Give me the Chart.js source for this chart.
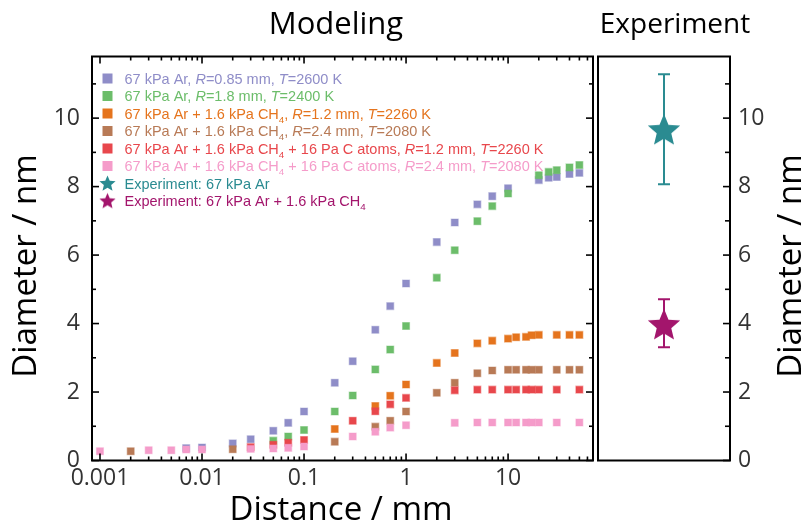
<!DOCTYPE html>
<html><head><meta charset="utf-8">
<script src="https://cdn.jsdelivr.net/npm/chart.js@4.4.1/dist/chart.umd.min.js"></script>
<style>
html,body{margin:0;padding:0;background:#fff;}
#wrap{position:relative;width:806px;height:529px;overflow:hidden;background:#fff;}
canvas{position:absolute;top:0;}
#c1{left:0;} #c2{left:580px;}
</style></head><body>
<div id="wrap"><canvas id="c1" width="600" height="529"></canvas><canvas id="c2" width="226" height="529"></canvas></div>
<script>
// ---------------- data ----------------
const N = null;
const distances = [0.001,0.002,0.003,0.005,0.007,0.01,0.02,0.03,0.05,0.07,0.1,0.2,0.3,0.5,0.7,1,2,3,5,7,10,12,15,17,20,25,30,40,50];
const arR085  = [N,N,N,N,0.36,0.38,0.50,0.62,0.87,1.10,1.43,2.27,2.90,3.82,4.51,5.17,6.38,6.95,7.48,7.72,7.95,N,N,N,8.19,8.26,8.28,8.37,8.40];
const arR18   = [N,N,N,N,N,N,N,N,0.58,0.70,0.89,1.43,1.90,2.66,3.24,3.93,5.34,6.14,6.99,7.43,7.80,N,N,N,8.33,8.43,8.48,8.56,8.63];
const ch4R12  = [N,N,N,N,N,N,N,N,N,N,N,0.92,N,1.59,1.89,2.22,2.85,3.14,3.42,3.50,3.56,3.60,3.61,3.66,3.67,N,3.67,3.67,3.67];
const ch4R24  = [N,0.27,N,N,N,N,0.33,N,N,N,N,0.55,N,0.99,1.16,1.43,1.98,2.27,2.55,2.63,2.65,2.65,2.65,2.65,2.65,N,2.65,2.65,2.65];
const cR12    = [N,N,N,N,N,N,N,0.39,0.46,0.52,0.60,N,1.16,1.44,1.64,1.83,N,2.05,2.07,2.07,2.07,2.07,2.07,2.07,2.07,N,2.07,N,2.07];
const cR24    = [0.27,N,0.30,0.30,0.32,0.32,N,0.34,0.35,0.37,0.41,N,0.70,0.84,0.96,1.03,N,1.10,1.11,1.11,1.11,1.11,1.11,1.11,1.11,N,1.11,N,1.11];
const modelSeries = [arR085, arR18, ch4R12, ch4R24, cR12, cR24];

const seriesLabels = [
  '67 kPa Ar, <i>R</i>=0.85 mm, <i>T</i>=2600 K',
  '67 kPa Ar, <i>R</i>=1.8 mm, <i>T</i>=2400 K',
  '67 kPa Ar + 1.6 kPa CH<sub>4</sub>, <i>R</i>=1.2 mm, <i>T</i>=2260 K',
  '67 kPa Ar + 1.6 kPa CH<sub>4</sub>, <i>R</i>=2.4 mm, <i>T</i>=2080 K',
  '67 kPa Ar + 1.6 kPa CH<sub>4</sub> + 16 Pa C atoms, <i>R</i>=1.2 mm, <i>T</i>=2260 K',
  '67 kPa Ar + 1.6 kPa CH<sub>4</sub> + 16 Pa C atoms, <i>R</i>=2.4 mm, <i>T</i>=2080 K'
];
const expLabels = ['Experiment: 67 kPa Ar', 'Experiment: 67 kPa Ar + 1.6 kPa CH<sub>4</sub>'];
const expCategory = ['Experiment'];
const expValues = [9.65, 3.96];
const expLow    = [8.07, 3.31];
const expHigh   = [11.28, 4.71];

const xTickLabels = ['0.001','0.01','0.1','1','10'];
const yTickLabels = ['0','2','4','6','8','10'];
const yMax = 11.8;

// ---------------- styles ----------------
const modelColors = ['#8f8dc8','#6cbd6a','#e5741d','#b87a56','#e8474c','#f59cca'];
const expColors = ['#2a8b91','#a3156c'];
const AX_FONT = '"Open Sans", "DejaVu Sans", sans-serif';
const LG_FONT = '"Liberation Sans", Arial, sans-serif';

function rgba(hex, a){const n=parseInt(hex.slice(1),16);return `rgba(${n>>16&255},${n>>8&255},${n&255},${a})`;}

function starCanvas(color, r){
  const s = Math.ceil(r*2+2), c = document.createElement('canvas');
  c.width = s; c.height = s;
  const g = c.getContext('2d'), cx = s/2, cy = s/2 + r*0.05, ri = r*0.45;
  g.beginPath();
  for(let k=0;k<10;k++){
    const rr = k%2===0 ? r : ri, a = -Math.PI/2 + k*Math.PI/5;
    g.lineTo(cx + rr*Math.cos(a), cy + rr*Math.sin(a));
  }
  g.closePath(); g.fillStyle = color; g.fill();
  return c;
}

function drawRich(ctx, str, x, y, color, size){
  const parts = str.split(/(<i>[^<]*<\/i>|<sub>[^<]*<\/sub>)/).filter(s=>s);
  ctx.fillStyle = color; ctx.textBaseline = 'alphabetic'; ctx.textAlign = 'left';
  for(const p of parts){
    let t = p, font = `${size}px ${LG_FONT}`, dy = 0;
    if(p.startsWith('<i>')){ t = p.slice(3,-4); font = `italic ${size}px ${LG_FONT}`; }
    else if(p.startsWith('<sub>')){ t = p.slice(5,-6); font = `${size*0.68}px ${LG_FONT}`; dy = size*0.28; }
    ctx.font = font; ctx.fillText(t, x, y+dy); x += ctx.measureText(t).width;
  }
}

// x tick positions for the log axis (1..9 x 10^k)
const xTickValues = [];
for(let k=-3;k<=1;k++){ for(let m=1;m<=9;m++){ const v = +(m*Math.pow(10,k)).toPrecision(6); if(v<=68) xTickValues.push(v);} }
const yTickValues = []; for(let v=0; v<=Math.floor(yMax); v++) yTickValues.push(v);

function xLabel(v){ const i = xTickLabels.findIndex(l => Math.abs(parseFloat(l)-v) < 1e-9*Math.max(1,v)); return i>=0 ? xTickLabels[i] : ''; }
function yLabel(v){ const i = yTickLabels.indexOf(String(v)); return i>=0 ? yTickLabels[i] : ''; }

function strokeTick(ctx,x1,y1,x2,y2){ ctx.beginPath(); ctx.moveTo(x1,y1); ctx.lineTo(x2,y2); ctx.stroke(); }

const TITLE_SIZE = 33;

const framePlugin1 = {
  id:'frame1',
  afterDraw(chart){
    const ctx = chart.ctx, a = chart.chartArea, sx = chart.scales.x, sy = chart.scales.y;
    ctx.save();
    ctx.strokeStyle = '#000'; ctx.lineWidth = 2;
    ctx.strokeRect(a.left, a.top, a.right-a.left, a.bottom-a.top);
    ctx.lineWidth = 1.6;
    sx.ticks.forEach((t,i)=>{
      const p = sx.getPixelForTick(i), L = t.label ? 7 : 4;
      strokeTick(ctx,p,a.bottom,p,a.bottom-L);
      strokeTick(ctx,p,a.top,p,a.top+L);
    });
    sy.ticks.forEach((t,i)=>{
      const p = sy.getPixelForTick(i), L = t.label ? 7 : 4;
      strokeTick(ctx,a.left,p,a.left+L,p);
      strokeTick(ctx,a.right,p,a.right-L,p);
    });
    // titles
    ctx.fillStyle = '#000'; ctx.textAlign = 'center'; ctx.textBaseline = 'middle';
    ctx.font = `31px ${AX_FONT}`;
    ctx.fillText('Modeling', 336, 25);
    ctx.font = `${TITLE_SIZE}px ${AX_FONT}`;
    ctx.fillText('Distance / mm', 341, 511);
    ctx.save(); ctx.translate(27, 266); ctx.rotate(-Math.PI/2);
    ctx.fillText('Diameter / nm', 0, 0); ctx.restore();
    // legend
    const lx = 107.5, tx = 124.5, y0 = 78.5, dy = 17.5, fs = 14.5;
    seriesLabels.forEach((lab,i)=>{
      const cy = y0 + i*dy;
      ctx.fillStyle = modelColors[i]; ctx.fillRect(lx-5, cy-5, 10, 10);
      drawRich(ctx, lab, tx, cy+5, modelColors[i], fs);
    });
    expLabels.forEach((lab,i)=>{
      const cy = y0 + (seriesLabels.length+i)*dy;
      const st = starCanvas(expColors[i], 8.5);
      ctx.drawImage(st, lx - st.width/2, cy - st.height/2);
      drawRich(ctx, lab, tx, cy+5, expColors[i], fs);
    });
    ctx.restore();
  }
};

const framePlugin2 = {
  id:'frame2',
  afterDraw(chart){
    const ctx = chart.ctx, a = chart.chartArea, sy = chart.scales.y;
    ctx.save();
    ctx.strokeStyle = '#000'; ctx.lineWidth = 2;
    ctx.strokeRect(a.left, a.top, a.right-a.left, a.bottom-a.top);
    ctx.lineWidth = 1.6;
    sy.ticks.forEach((t,i)=>{
      const p = sy.getPixelForTick(i), L = t.label ? 7 : 5;
      strokeTick(ctx,a.right,p,a.right-L,p);
    });
    ctx.fillStyle = '#000'; ctx.textAlign = 'center'; ctx.textBaseline = 'middle';
    ctx.font = `28px ${AX_FONT}`;
    ctx.fillText('Experiment', 95, 25);
    ctx.font = `${TITLE_SIZE}px ${AX_FONT}`;
    ctx.save(); ctx.translate(212, 266); ctx.rotate(-Math.PI/2);
    ctx.fillText('Diameter / nm', 0, 0); ctx.restore();
    ctx.restore();
  }
};

const tickFont = {family: AX_FONT, size: 23};

const modelDatasets = modelSeries.map((vals,i)=>({
  label: seriesLabels[i].replace(/<[^>]+>/g,''),
  data: distances.map((d,j)=> vals[j]==null ? null : {x:d, y:vals[j]}).filter(Boolean),
  pointStyle: 'rect',
  pointRadius: 4.9,
  pointBackgroundColor: modelColors[i],
  pointBorderColor: rgba(modelColors[i],0.45),
  pointBorderWidth: 1.2,
  showLine: false,
  order: 10 - i
}));

new Chart(document.getElementById('c1'), {
  type: 'scatter',
  data: {datasets: modelDatasets},
  options: {
    responsive: false, animation: false, events: [],
    layout: {padding: {left: 0, right: 7, top: 56.5, bottom: 0}},
    plugins: {legend: {display: false}, tooltip: {enabled: false}},
    scales: {
      x: {
        type: 'logarithmic', position: 'bottom', min: 0.000835, max: 68,
        afterFit: s => { s.height = 68.5; },
        afterBuildTicks: s => { s.ticks = xTickValues.map(v => ({value: v})); },
        grid: {display: false, drawTicks: false}, border: {display: false},
        ticks: {autoSkip: false, maxRotation: 0, padding: 4, color: '#333', font: tickFont, callback: v => xLabel(v)}
      },
      y: {
        type: 'linear', position: 'left', min: 0, max: yMax,
        afterFit: s => { s.width = 92; },
        afterBuildTicks: s => { s.ticks = yTickValues.map(v => ({value: v})); },
        grid: {display: false, drawTicks: false}, border: {display: false},
        ticks: {autoSkip: false, padding: 12, color: '#333', font: tickFont, callback: v => yLabel(v)}
      }
    }
  },
  plugins: [framePlugin1]
});

const expDatasets = [{
  label: 'Experiment',
  data: expValues.map(v => ({x: expCategory[0], y: v})),
  pointStyle: expColors.map(c => starCanvas(c, 17)),
  pointRadius: 17,
  showLine: false,
  order: 0
}];
expValues.forEach((v,i)=>{
  expDatasets.push({
    label: 'err'+i,
    data: [{x: expCategory[0], y: expLow[i]}, {x: expCategory[0], y: expHigh[i]}],
    showLine: true, borderColor: expColors[i], borderWidth: 2,
    pointStyle: 'line', pointRadius: 6, pointBorderWidth: 2, pointBorderColor: expColors[i],
    order: 1
  });
});

new Chart(document.getElementById('c2'), {
  type: 'line',
  data: {labels: expCategory, datasets: expDatasets},
  options: {
    responsive: false, animation: false, events: [],
    layout: {padding: {left: 13, right: 0, top: 56.5, bottom: 68.5}},
    plugins: {legend: {display: false}, tooltip: {enabled: false}},
    scales: {
      x: {type: 'category', labels: expCategory, offset: true, display: false},
      y: {
        type: 'linear', position: 'right', min: 0, max: yMax,
        afterFit: s => { s.width = 76; },
        afterBuildTicks: s => { s.ticks = yTickValues.map(v => ({value: v})); },
        grid: {display: false, drawTicks: false}, border: {display: false},
        ticks: {autoSkip: false, padding: 8, color: '#333', font: tickFont, callback: v => yLabel(v)}
      }
    }
  },
  plugins: [framePlugin2]
});
</script>
</body></html>
